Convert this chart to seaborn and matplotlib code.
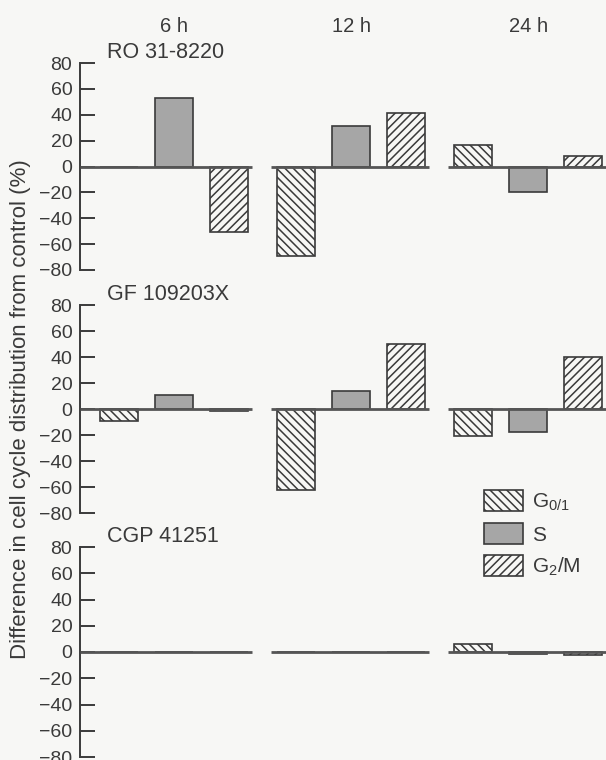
import numpy as np
import pandas as pd
import seaborn as sns
import matplotlib.pyplot as plt
import matplotlib.patches as mpatches
from matplotlib.transforms import blended_transform_factory

# ---------------- data ----------------
times = ["6 h", "12 h", "24 h"]
phases = ["G0/1", "S", "G2/M"]
phase_labels = ["G$_{0/1}$", "S", "G$_2$/M"]
drugs = ["RO 31-8220", "GF 109203X", "CGP 41251"]

ro_g01 = [0, -69, 16.5]
ro_s = [53, 31, -19.5]
ro_g2m = [-51, 41, 8]

gf_g01 = [-9, -62, -21]
gf_s = [11, 14, -17.5]
gf_g2m = [-1.5, 50, 40]

cgp_g01 = [0, 0, 6]
cgp_s = [0, 0, -1.5]
cgp_g2m = [0, 0, -2.5]

yticks = [-80, -60, -40, -20, 0, 20, 40, 60, 80]
ylabel = "Difference in cell cycle distribution from control (%)"

panels = [
    (drugs[0], [ro_g01, ro_s, ro_g2m]),
    (drugs[1], [gf_g01, gf_s, gf_g2m]),
    (drugs[2], [cgp_g01, cgp_s, cgp_g2m]),
]

# ---------------- style ----------------
sns.set_theme(style="white")
plt.rcParams["font.family"] = ["Liberation Sans", "DejaVu Sans"]
plt.rcParams["mathtext.default"] = "regular"
plt.rcParams["hatch.linewidth"] = 1.1

BG = "#f7f7f5"
INK = "#3a3a3a"
fills = {"G0/1": BG, "S": "#a6a6a6", "G2/M": BG}
hatches = {"G0/1": "\\\\\\\\", "S": "", "G2/M": "////"}

W, H = 606, 760
fig = plt.figure(figsize=(W / 100, H / 100), dpi=100)
fig.patch.set_facecolor(BG)

left = 80 / W
rects = [(63, 270), (305, 513), (547, 757)]
XL = (-0.531, 2.44)

axes = []
for (title, series), (top, bot) in zip(panels, rects):
    ax = fig.add_axes([left, 1 - bot / H, 1 - left, (bot - top) / H])
    ax.set_facecolor("none")
    rows = []
    for ph, vals in zip(phases, series):
        for t, v in zip(times, vals):
            rows.append({"time": t, "phase": ph, "value": v})
    df = pd.DataFrame(rows)
    sns.barplot(data=df, x="time", y="value", hue="phase", order=times,
                hue_order=phases, width=0.932, gap=0.30, errorbar=None,
                legend=False, ax=ax, saturation=1)
    for ph, cont in zip(phases, ax.containers):
        for p in cont:
            p.set_facecolor(fills[ph])
            p.set_edgecolor(INK)
            p.set_hatch(hatches[ph])
            p.set_linewidth(1.2)
    # baseline segments per time group
    lefts = [XL[0]] + [i - 0.455 for i in range(1, len(times))]
    rights = [i + 0.44 for i in range(len(times))]
    ax.hlines([0] * len(times), lefts, rights, color="#555555", lw=2, zorder=3)
    ax.set_xlim(*XL)
    ax.set_ylim(-80, 80)
    ax.set_yticks(yticks)
    ax.set_yticklabels([str(v).replace("-", "\u2212") for v in yticks])
    ax.set_xticks([])
    ax.set_xlabel("")
    ax.set_ylabel("")
    for s in ["top", "right", "bottom"]:
        ax.spines[s].set_visible(False)
    ax.spines["left"].set_color(INK)
    ax.spines["left"].set_linewidth(1.4)
    ax.tick_params(axis="y", direction="in", length=11, width=1.4,
                   pad=5.5, labelsize=14, colors=INK, left=True)
    ax.text(0.051, 1.0, title, transform=ax.transAxes, ha="left",
            va="bottom", fontsize=15.5, color=INK, clip_on=False)
    axes.append(ax)

# time labels on top
tr = blended_transform_factory(axes[0].transData, fig.transFigure)
for i, t in enumerate(times):
    axes[0].text(i, 1 - 26 / H, t, transform=tr, ha="center", va="center",
                 fontsize=14.5, color=INK)

# y label
fig.text(21 / W, 1 - 409 / H, ylabel, rotation=90, ha="center", va="center",
         fontsize=16, color=INK)

# legend
handles = [mpatches.Patch(facecolor=fills[ph], edgecolor=INK,
                          hatch=hatches[ph], linewidth=1.2) for ph in phases]
fig.legend(handles, phase_labels, loc="upper left",
           bbox_to_anchor=(484 / W, 1 - 490 / H), frameon=False,
           fontsize=15, handlelength=1.87, handleheight=1.15,
           handletextpad=0.45, labelspacing=0.5, borderpad=0,
           borderaxespad=0, labelcolor=INK)

fig.savefig("out.png", dpi=100, facecolor=BG)
